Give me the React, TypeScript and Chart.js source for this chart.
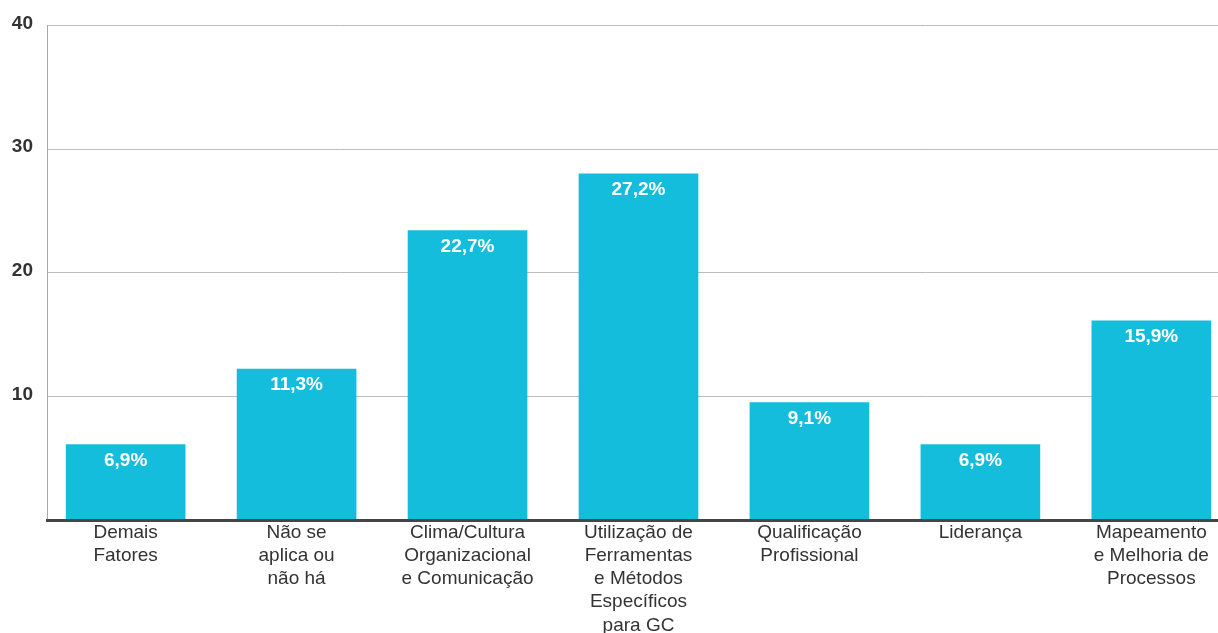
import React, { useEffect, useRef } from "react";
import { Chart, registerables } from "chart.js";

Chart.register(...registerables);

const categories: string[][] = [
  ["Demais", "Fatores"],
  ["Não se", "aplica ou", "não há"],
  ["Clima/Cultura", "Organizacional", "e Comunicação"],
  ["Utilização de", "Ferramentas", "e Métodos", "Específicos", "para GC"],
  ["Qualificação", "Profissional"],
  ["Liderança"],
  ["Mapeamento", "e Melhoria de", "Processos"],
];
// bar heights as drawn in the picture
const barHeights = [6.1, 12.2, 23.4, 28.0, 9.5, 6.1, 16.1];
// printed value labels
const valueLabels = ["6,9%", "11,3%", "22,7%", "27,2%", "9,1%", "6,9%", "15,9%"];
const yTicks = [0, 10, 20, 30, 40];

const FONT = "'Liberation Sans', Arial, Helvetica, sans-serif";

const valueLabelPlugin = {
  id: "valueLabels",
  afterDatasetsDraw(chart: any) {
    const ctx = chart.ctx;
    const meta = chart.getDatasetMeta(0);
    ctx.save();
    ctx.fillStyle = "#ffffff";
    ctx.font = `bold 19px ${FONT}`;
    ctx.textAlign = "center";
    ctx.textBaseline = "middle";
    meta.data.forEach((bar: any, i: number) => {
      ctx.fillText(valueLabels[i], bar.x, bar.y + 16);
    });
    ctx.restore();
  },
};

export default function App() {
  const canvasRef = useRef<HTMLCanvasElement | null>(null);

  useEffect(() => {
    document.body.style.margin = "0";
    const canvas = canvasRef.current;
    if (!canvas) return;
    const chart = new Chart(canvas, {
      type: "bar",
      data: {
        datasets: [
          {
            data: barHeights.map((v, i) => ({ x: i, y: v })),
            backgroundColor: "#15bddd",
            borderWidth: 0,
            barThickness: 119,
          },
        ],
      },
      options: {
        responsive: false,
        animation: false,
        layout: { padding: { top: 24, left: 0, right: 0, bottom: 0 } },
        plugins: {
          legend: { display: false },
          tooltip: { enabled: false },
        },
        scales: {
          x: {
            type: "linear",
            offset: false,
            min: -0.46,
            max: 6.39,
            grid: { display: false, drawTicks: false, offset: false },
            border: { display: true, color: "#454545", width: 3, z: 1 },
            ticks: {
              stepSize: 1,
              includeBounds: false,
              autoSkip: false,
              maxRotation: 0,
              minRotation: 0,
              padding: 1,
              color: "#333333",
              font: { family: FONT, size: 19, lineHeight: 1.22 },
              callback: (v: any) => {
                const idx = Number(v);
                return Number.isInteger(idx) && categories[idx] ? categories[idx] : "";
              },
            },
            afterFit: (s: any) => {
              s.height = 113;
            },
          },
          y: {
            min: 0,
            max: 40,
            afterBuildTicks: (s: any) => {
              s.ticks = yTicks.map((v) => ({ value: v }));
            },
            grid: { color: "#bdbdbd", lineWidth: 1, drawTicks: false },
            border: { display: true, color: "#a8a8a8", width: 1 },
            ticks: {
              padding: 14,
              labelOffset: -2,
              color: "#333333",
              font: { family: FONT, size: 19, weight: "bold" },
              callback: (v: any) => (Number(v) === 0 ? "" : String(v)),
            },
            afterFit: (s: any) => {
              s.width = 47;
            },
          },
        },
      },
      plugins: [valueLabelPlugin],
    });
    return () => chart.destroy();
  }, []);

  return (
    <div style={{ width: 1218, height: 633 }}>
      <canvas ref={canvasRef} width={1218} height={633} style={{ display: "block" }} />
    </div>
  );
}
